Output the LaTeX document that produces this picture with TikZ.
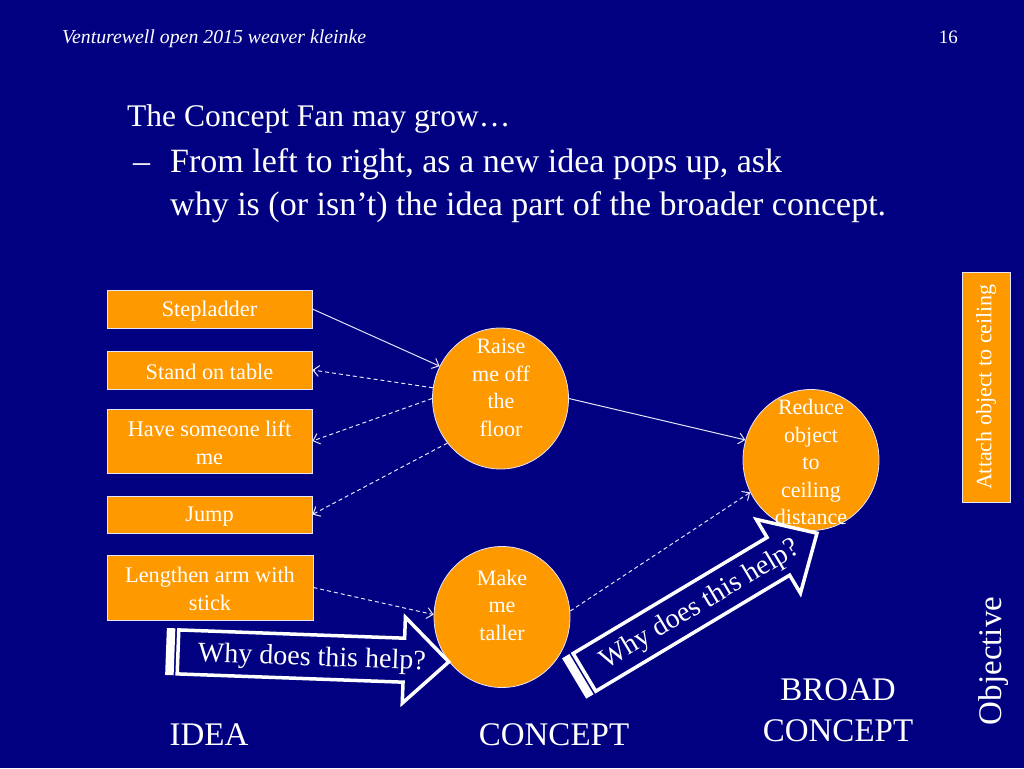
\documentclass[tikz,border=0pt]{standalone}
\usepackage{fontspec}
\setmainfont{Liberation Serif}
\usetikzlibrary{arrows.meta,shapes.geometric}
\definecolor{navy}{RGB}{0,0,128}
\definecolor{orng}{RGB}{255,153,0}
\definecolor{pale}{RGB}{228,228,252}
\tikzset{whyarrow/.pic={
  \path[draw=white, line width=3.5pt, fill=navy, line join=miter] (11,-22) -- (237,-22) -- (237,-43) -- (282,0) -- (237,43) -- (237,22) -- (11,22) -- cycle;
  \path[fill=white] (-1,-23.5) rectangle (7.5,23.5);
  \node[transform shape, text=white, font=\fontsize{28}{32}\selectfont, inner sep=0pt] (-t) at (145,2) {Why does this help?};
}}
\begin{document}
\begin{tikzpicture}[x=1pt,y=-1pt,
 idea/.style={draw=pale, line width=0.8pt, fill=orng, minimum width=205pt, text=white, font=\fontsize{22.3}{28}\selectfont, align=center, inner sep=0pt},
 oneline/.style={idea, text height=19pt},
 twoline/.style={idea, text height=47pt},
 blob/.style={ellipse, draw=pale, line width=0.8pt, fill=orng, minimum width=136pt, minimum height=141pt, inner sep=0pt},
 blobtext/.style={text=white, font=\fontsize{22}{27.5}\selectfont, align=center, inner sep=0pt},
 link/.style={draw=pale, line width=1pt, -{Straight Barb[length=6pt,width=11pt]}},
 dlink/.style={link, dash pattern=on 4pt off 3pt},
 big/.style={text=white, font=\fontsize{33}{41}\selectfont, inner sep=0pt},
 hdr/.style={text=white, inner sep=0pt},
]
\fill[navy] (0,0) rectangle (1024,768);
\useasboundingbox (0,0) rectangle (1024,768);

% header
\node[hdr, anchor=base west, font=\itshape\fontsize{19.8}{22}\selectfont] (hd) at (62,43.5) {Venturewell open 2015 weaver kleinke};
\node[hdr, anchor=base east, font=\fontsize{19}{22}\selectfont] (pg) at (958,43.5) {16};

% title
\node[hdr, anchor=base west, font=\fontsize{31.5}{38}\selectfont] (title) at (127,126) {The Concept Fan may grow…};
\node[hdr, anchor=base west, font=\fontsize{34}{40}\selectfont] (dash) at (133,172) {–};
\node[hdr, anchor=base west, font=\fontsize{34}{40}\selectfont] (l1) at (170,172) {From left to right, as a new idea pops up, ask};
\node[hdr, anchor=base west, font=\fontsize{34}{40}\selectfont] (l2) at (170,215) {why is (or isn’t) the idea part of the broader concept.};

% ideas
\node[oneline, minimum height=38pt] (step) at (209.5,309) {Stepladder};
\node[oneline, minimum height=38pt] (stand) at (209.5,370) {Stand on table};
\node[twoline, minimum height=64pt] (lift) at (209.5,441) {Have someone lift\\me};
\node[oneline, minimum height=37pt] (jump) at (209.5,514.5) {Jump};
\node[twoline, minimum height=65pt, minimum width=206pt] (arm) at (210,587.5) {Lengthen arm with\\stick};

% concepts
\node[blob] (raise) at (500.5,398.5) {};
\node[blobtext] (raiseT) at (501,388) {Raise\\me off\\the\\floor};
\node[blob] (make) at (502,617) {};
\node[blobtext] (makeT) at (502,605) {Make\\me\\taller};
\node[blob] (reduce) at (811,460) {};
\node[blobtext] (reduceT) at (811,462) {Reduce\\object\\to\\ceiling\\distance};

% objective
\node[draw=pale, line width=0.8pt, fill=orng, rotate=90, minimum width=230pt, minimum height=48pt, text=white, font=\fontsize{22}{26}\selectfont, inner sep=0pt] (attach) at (986,387) {Attach object to ceiling};

% connectors
\draw[link] (step.east) -- (raise.152);
\draw[dlink] (raise.171) -- (stand.east);
\draw[dlink] (raise.west) -- (lift.east);
\draw[dlink] (raise.220) -- (jump.east);
\draw[dlink] (arm.east) -- (make.178);
\draw[link] (raise.east) -- (reduce.163);
\draw[dlink] (make.5) -- (reduce.208);

% big arrows
\pic[rotate=-2.1] (wa) at (167,651.5) {whyarrow};
\pic[rotate=30.9] (wb) at (575,678) {whyarrow};

% labels
\node[big] (ideaL) at (209,735) {IDEA};
\node[big] (conceptL) at (554,735) {CONCEPT};
\node[big, align=center] (broadL) at (838,710) {BROAD\\CONCEPT};
\node[big, rotate=90, anchor=base] (objL) at (1001,661) {Objective};
\end{tikzpicture}
\end{document}
